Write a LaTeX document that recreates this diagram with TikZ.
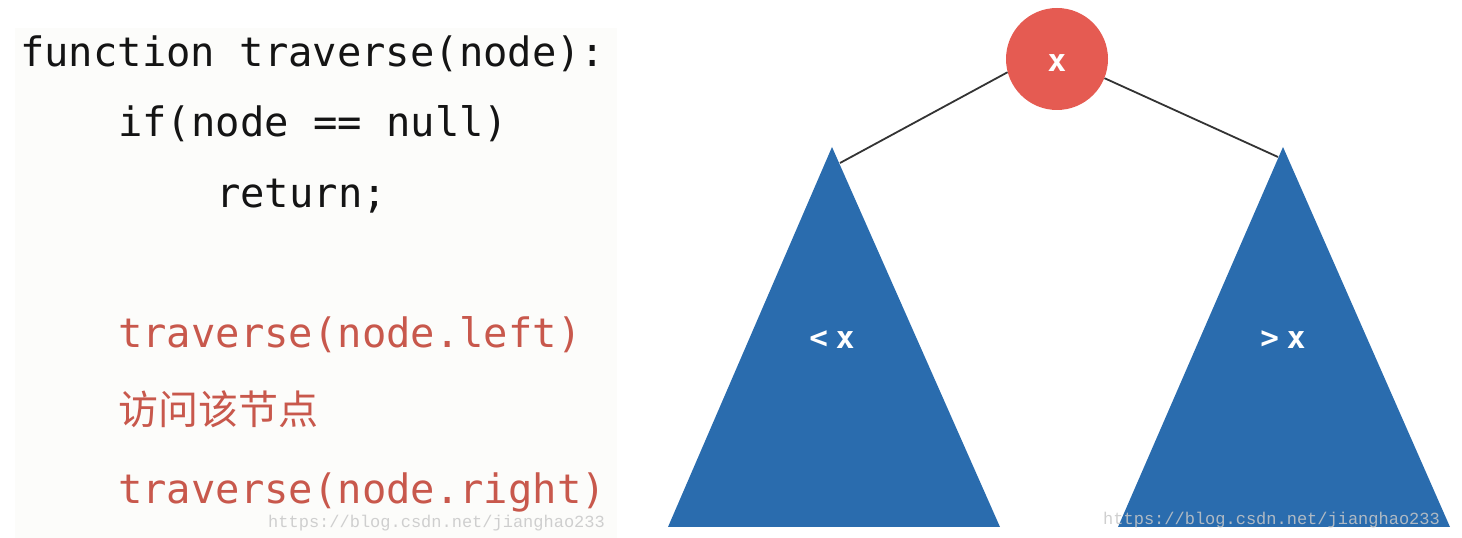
\documentclass[tikz,border=0pt]{standalone}
\usepackage{fontspec}
\usepackage{xcolor}
\usepackage{tikz}
\usetikzlibrary{positioning}
\newfontfamily\codefont{DejaVu Sans Mono}
\newfontfamily\cjkfont{Noto Sans CJK SC}
\newfontfamily\wmfont{Liberation Mono}
\definecolor{codered}{RGB}{200,88,76}
\definecolor{rootred}{RGB}{229,91,82}
\definecolor{treeblue}{RGB}{42,108,174}
\definecolor{panelgray}{RGB}{252,252,250}

\begin{document}
\begin{tikzpicture}[x=1pt, y=1pt,
  code/.style={anchor=base west, inner sep=0pt, text=black!92, font=\codefont\fontsize{40.5}{48}\selectfont},
  recur/.style={code, text=codered},
  root/.style={circle, fill=rootred, minimum size=102pt, inner sep=0pt, text height=25pt, text depth=0pt, text=white, font=\codefont\bfseries\fontsize{31}{36}\selectfont},
  subtree/.style={fill=treeblue},
  tag/.style={inner sep=0pt, text=white, font=\codefont\bfseries\fontsize{31}{36}\selectfont},
  link/.style={draw=black!80, line width=1.8pt},
  wmark/.style={anchor=base west, inner sep=0pt, text=black!22, text opacity=0.85, font=\wmfont\fontsize{17}{20}\selectfont}]
\useasboundingbox (0,0) rectangle (1462,538);
\fill[panelgray] (15,0) rectangle (617,510);
% code on the left
\node[code] at (20,471) (fnline) {function traverse(node):};
\node[code] at (118,401) (ifline) {if(node == null)};
\node[code] at (216,330) (retline) {return;};
\node[recur] at (118,190) (leftline) {traverse(node.left)};
\node[recur, font=\cjkfont\fontsize{40}{48}\selectfont] at (118,113) (visitline) {访问该节点};
\node[recur] at (118,34) (rightline) {traverse(node.right)};
% tree on the right
\coordinate (ltop) at (832,391);
\coordinate (ljoin) at (840,375);
\coordinate (rtop) at (1283,391);
\coordinate (rjoin) at (1278,381);
\fill[subtree] (668,11) -- (1000,11) -- (ltop) -- cycle;
\fill[subtree] (1118,11) -- (1450,11) -- (rtop) -- cycle;
\node[root] at (1057,479) (root) {x};
\node[tag] at (832,198) (less) {<\hspace{-0.35em} x};
\node[tag] at (1283,198) (more) {>\hspace{-0.35em} x};
\draw[link] (root.195) -- (ljoin);
\draw[link] (root.-22) -- (rjoin);
\node[wmark] at (268,10) (wmleft) {https://blog.csdn.net/jianghao233};
\node[wmark] at (1103,13) (wmright) {https://blog.csdn.net/jianghao233};
\end{tikzpicture}
\end{document}
